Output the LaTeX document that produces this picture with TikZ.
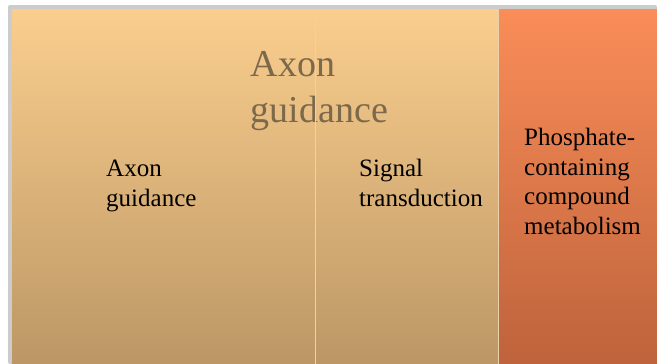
\documentclass[tikz,border=0pt]{standalone}
\usepackage{fontspec}
\setmainfont{Liberation Serif}
\usepackage{tikz}
\definecolor{sandtop}{RGB}{250,206,142}
\definecolor{sandbot}{RGB}{188,151,101}
\definecolor{rusttop}{RGB}{250,141,88}
\definecolor{rustbot}{RGB}{190,99,60}
\definecolor{frame}{RGB}{204,204,204}
\definecolor{seam}{RGB}{236,210,172}
\definecolor{bigtext}{RGB}{124,104,74}
\tikzset{
  label/.style={anchor=north west,inner sep=0pt,align=left,font=\fontsize{25}{29.5}\selectfont},
  biglabel/.style={anchor=north west,inner sep=0pt,align=left,text=bigtext,font=\fontsize{38}{46}\selectfont}
}

\begin{document}
\begin{tikzpicture}[x=1pt,y=-1pt]
\useasboundingbox (0,0) rectangle (657,364);
\fill[white] (0,0) rectangle (657,364);
% frame
\fill[frame,rounded corners=2pt] (8,5) rectangle (657,364);
% cells
\shade[top color=sandtop,bottom color=sandbot] (12,9) rectangle (498,364);
\shade[top color=rusttop,bottom color=rustbot] (498,9) rectangle (657,364);
\node[biglabel] (group) at (250.5,51) {Axon\\guidance};
\draw[seam,line width=1pt] (315.5,9) -- (315.5,364);
\draw[seam,line width=1pt] (498,9) -- (498,364);
% labels
\node[label] (axon) at (106,160) {Axon\\guidance};
\node[label] (signal) at (359,159) {Signal\\transduction};
\node[label] (phos) at (524,128) {Phosphate-\\containing\\compound\\metabolism};
\end{tikzpicture}
\end{document}
